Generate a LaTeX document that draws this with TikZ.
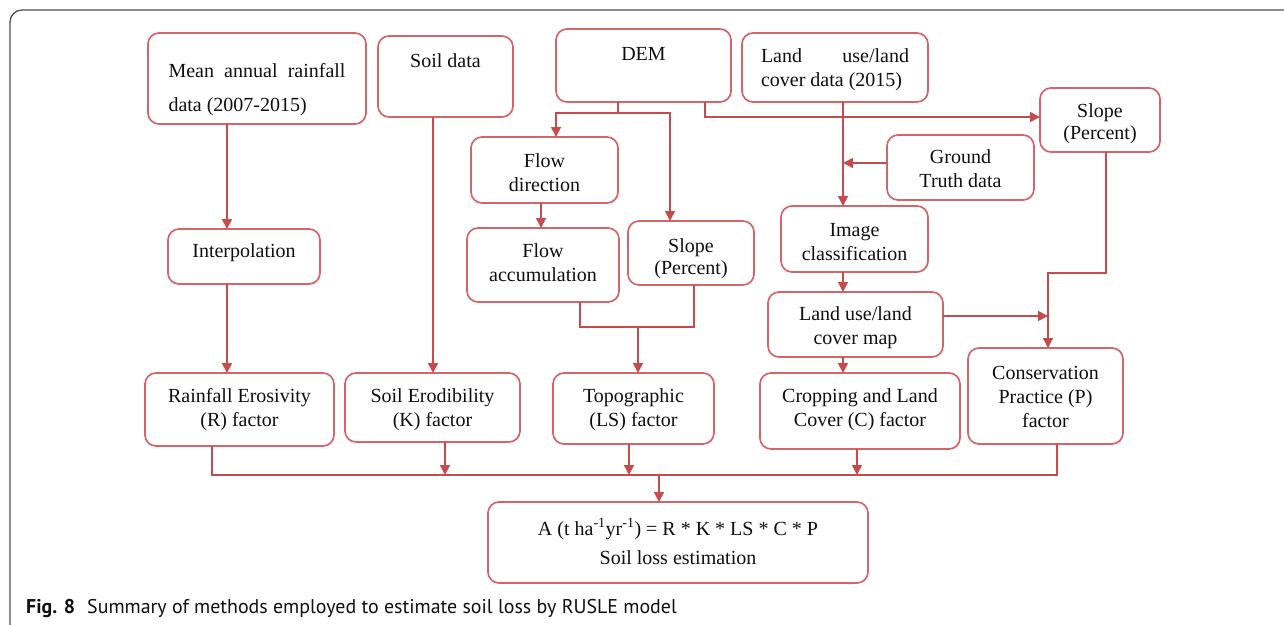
\documentclass[tikz,border=0pt]{standalone}
\usepackage{fontspec}
\usetikzlibrary{arrows.meta,calc}
\newfontfamily\diagfont{Liberation Serif}
\newfontfamily\capfont{PT Sans}
\definecolor{boxred}{RGB}{212,100,104}
\definecolor{linered}{RGB}{196,76,76}
\definecolor{framegray}{RGB}{80,80,80}
\definecolor{txt}{RGB}{15,15,15}
\newcommand\bt[3]{\raisebox{#1pt}[0pt][0pt]{\parbox[t]{#2pt}{\centering #3}}}
\begin{document}
\begin{tikzpicture}[x=1pt,y=-1pt,
  box/.style={draw=boxred, line width=1.7pt, rounded corners=11pt, inner sep=0pt, outer sep=0pt, text=txt, font=\diagfont\fontsize{20}{24}\selectfont},
  conn/.style={draw=linered, line width=1.6pt},
  arr/.style={conn, -{Triangle[length=10pt,width=10pt]}}]
\useasboundingbox (0,0) rectangle (1284,624);
\draw[framegray, line width=1.3pt, rounded corners=12pt] (10,630) -- (10,10) -- (1290,10);

% boxes
\node[box, minimum width=218pt, minimum height=91pt] (rain) at (257,78.5)
  {\raisebox{1.5pt}[0pt][0pt]{\parbox[t]{177pt}{\makebox[177pt][s]{Mean annual rainfall}\\[10pt]data (2007-2015)}}};
\node[box, minimum width=135pt, minimum height=81pt] (soil) at (445.5,76.5) {\bt{9.5}{130}{Soil data}};
\node[box, minimum width=175pt, minimum height=73pt] (dem) at (643.5,65.5) {\bt{5.5}{170}{DEM}};
\node[box, minimum width=186pt, minimum height=69pt] (lulc) at (835,67.5)
  {\raisebox{5.5pt}[0pt][0pt]{\parbox[t]{148pt}{\makebox[148pt][s]{Land use/land}\\cover data (2015)}}};
\node[box, minimum width=120pt, minimum height=64pt] (sloper) at (1100,120) {\bt{3}{115}{Slope\\[-2pt](Percent)}};
\node[box, minimum width=147pt, minimum height=65pt] (ground) at (960.5,167.5) {\bt{4.5}{140}{Ground\\Truth data}};
\node[box, minimum width=147pt, minimum height=66pt] (flowdir) at (544.5,170) {\bt{3}{140}{Flow\\direction}};
\node[box, minimum width=152pt, minimum height=74pt] (flowacc) at (543,265) {\bt{8}{145}{Flow\\accumulation}};
\node[box, minimum width=126pt, minimum height=64pt] (slopem) at (691,253) {\bt{1}{120}{Slope\\[-2pt](Percent)}};
\node[box, minimum width=147pt, minimum height=66pt] (imgcls) at (854.5,239) {\bt{3}{140}{Image\\classification}};
\node[box, minimum width=175pt, minimum height=65pt] (lumap) at (855.5,324.5) {\bt{4.5}{170}{Land use/land\\cover map}};
\node[box, minimum width=200pt, minimum height=76pt] (cfac) at (860,411) {\bt{9}{195}{Cropping and Land\\Cover (C) factor}};
\node[box, minimum width=155pt, minimum height=96pt] (pfac) at (1045.5,396) {\bt{17}{150}{Conservation\\Practice (P)\\factor}};
\node[box, minimum width=152pt, minimum height=55pt] (interp) at (244,256.5) {\bt{-0.5}{145}{Interpolation}};
\node[box, minimum width=189pt, minimum height=73pt] (rfac) at (239.5,409.5) {\bt{7.5}{185}{Rainfall Erosivity\\(R) factor}};
\node[box, minimum width=175pt, minimum height=69pt] (kfac) at (432.5,407.5) {\bt{5.5}{170}{Soil Erodibility\\(K) factor}};
\node[box, minimum width=161pt, minimum height=71pt] (lsfac) at (633.5,408.5) {\bt{6.5}{155}{Topographic\\(LS) factor}};
\node[box, minimum width=380pt, minimum height=81pt] (soilloss) at (678,542.5)
  {\bt{7.5}{370}{A (t ha\textsuperscript{-1}yr\textsuperscript{-1}) = R * K * LS * C * P\\[5pt]Soil loss estimation}};

% caption
\node[anchor=base west, inner sep=0pt, text=txt, font=\capfont\fontsize{19.9}{23}\selectfont] (cap) at (26,613)
  {\textbf{Fig. 8}\hspace{12pt}Summary of methods employed to estimate soil loss by RUSLE model};

% connectors
\draw[arr] ([xshift=-30pt]rain.south) -- ([xshift=-30pt]rain.south |- interp.north);
\draw[arr] ([xshift=-17pt]interp.south) -- ([xshift=-17pt]interp.south |- rfac.north);
\draw[arr] ([xshift=-12.5pt]soil.south) -- ([xshift=-12.5pt]soil.south |- kfac.north);

\coordinate (dj) at ($(dem.south)+(-25.5,11)$);
\draw[conn] ([xshift=-25.5pt]dem.south) -- (dj);
\draw[arr] (dj) -| ([xshift=11.5pt]flowdir.north);
\draw[arr] (dj) -| ([xshift=-21pt]slopem.north);
\draw[arr] ([xshift=61.5pt]dem.south) |- ([yshift=3pt]sloper.west);

\coordinate (lx) at ([xshift=8pt]lulc.south);
\draw[arr] (lx) -- (lx |- imgcls.north);
\coordinate (gw) at ([yshift=4.5pt]ground.west);
\draw[arr] (gw) -- (gw -| lx);
\draw[arr] (lx |- imgcls.south) -- (lx |- lumap.north);
\draw[arr] (lx |- lumap.south) -- (lx |- cfac.north);

\draw[arr] ([xshift=-3.5pt]flowdir.south) -- ([xshift=-3.5pt]flowdir.south |- flowacc.north);
\coordinate (fa) at ([xshift=37pt]flowacc.south);
\coordinate (sm) at ([xshift=3pt]slopem.south);
\draw[conn] (fa) -- ++(0,25) -| (sm);
\coordinate (tj) at ($(fa)+(58,25)$);
\draw[arr] (tj) -- (tj |- lsfac.north);

\coordinate (px) at ([xshift=2.5pt]pfac.north);
\coordinate (lm) at ([yshift=8.5pt]lumap.east);
\draw[arr] (lm) -- (lm -| px);
\draw[arr] ([xshift=6pt]sloper.south) -- ++(0,121) -| (px);

\coordinate (busL) at ($(rfac.south)+(-27.5,29)$);
\coordinate (busR) at ($(pfac.south)+(11.5,31)$);
\draw[conn] ([xshift=-27.5pt]rfac.south) -- (busL) -- (busR) -- ([xshift=11.5pt]pfac.south);
\draw[arr] ([xshift=12.5pt]kfac.south) -- ([xshift=12.5pt]kfac.south |- busL);
\draw[arr] ([xshift=-4.5pt]lsfac.south) -- ([xshift=-4.5pt]lsfac.south |- busL);
\draw[arr] ([xshift=-3pt]cfac.south) -- ([xshift=-3pt]cfac.south |- busL);
\coordinate (sj) at ([xshift=-19pt]soilloss.north);
\draw[arr] (sj |- busL) -- (sj);
\end{tikzpicture}
\end{document}
